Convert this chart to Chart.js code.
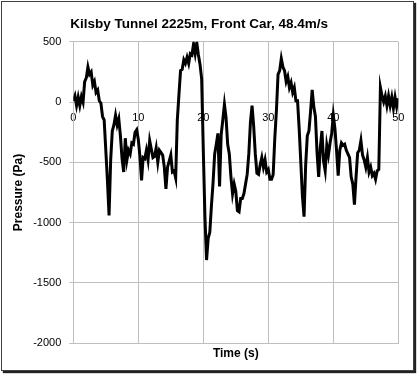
<!DOCTYPE html>
<html>
<head>
<meta charset="utf-8">
<script src="https://cdn.jsdelivr.net/npm/chart.js@4/dist/chart.umd.min.js"></script>
<style>
  html, body { margin: 0; padding: 0; background: #fff; }
  #wrap { position: relative; width: 417px; height: 375px; }
  #c { position: absolute; left: 0; top: 0; }
  #frame { position: absolute; left: 1px; top: 1px; width: 411px; height: 368px;
           border: 1px solid #404040; box-shadow: 2px 2px 1px #222; pointer-events: none; }
</style>
</head>
<body>
<div id="wrap">
  <canvas id="c" width="417" height="375"></canvas>
  <div id="frame"></div>
</div>
<script>
const chartTitle = 'Kilsby Tunnel 2225m, Front Car, 48.4m/s';
const xTitle = 'Time (s)';
const yTitle = 'Pressure (Pa)';

const timeS = [
  0,0.25,0.5,0.75,1,1.25,1.5,1.75,2,2.25,2.5,2.75,3,3.25,3.5,3.75,4,4.25,4.5,4.75,
  5,5.25,5.5,5.75,6,6.25,6.5,6.75,7,7.25,7.5,7.75,8,8.25,8.5,8.75,9,9.25,9.5,9.75,
  10,10.25,10.5,10.75,11,11.25,11.5,11.75,12,12.25,12.5,12.75,13,13.25,13.5,13.75,14,14.25,14.5,14.75,
  15,15.25,15.5,15.75,16,16.25,16.5,16.75,17,17.25,17.5,17.75,18,18.25,18.5,18.75,19,19.25,19.5,19.75,
  20,20.25,20.5,20.75,21,21.25,21.5,21.75,22,22.25,22.5,22.75,23,23.25,23.5,23.75,24,24.25,24.5,24.75,
  25,25.25,25.5,25.75,26,26.25,26.5,26.75,27,27.25,27.5,27.75,28,28.25,28.5,28.75,29,29.25,29.5,29.75,
  30,30.25,30.5,30.75,31,31.25,31.5,31.75,32,32.25,32.5,32.75,33,33.25,33.5,33.75,34,34.25,34.5,34.75,
  35,35.25,35.5,35.75,36,36.25,36.5,36.75,37,37.25,37.5,37.75,38,38.25,38.5,38.75,39,39.25,39.5,39.75,
  40,40.25,40.5,40.75,41,41.25,41.5,41.75,42,42.25,42.5,42.75,43,43.25,43.5,43.75,44,44.25,44.5,44.75,
  45,45.25,45.5,45.75,46,46.25,46.5,46.75,47,47.25,47.5,47.75,48,48.25,48.5,48.75,49,49.25,49.5,49.75,
  50
];

const pressurePa = [
  10,50,-30,40,-30,45,0,170,200,290,230,250,140,170,80,100,10,-10,-120,-150,
  -400,-650,-940,-480,-240,-190,-110,-190,-140,-280,-470,-580,-300,-480,-400,-430,-340,-350,-250,-230,
  -310,-450,-650,-460,-470,-400,-480,-320,-390,-460,-450,-380,-500,-400,-420,-440,-540,-720,-540,-490,
  -440,-580,-570,-630,-150,60,260,270,350,320,370,320,400,390,480,400,490,390,310,190,
  -400,-950,-1310,-1130,-1080,-860,-670,-430,-350,-260,-700,-270,-150,-20,-130,-350,-430,-620,-760,-680,
  -740,-900,-910,-800,-800,-760,-680,-600,-430,-170,-30,-200,-430,-590,-600,-520,-460,-540,-480,-580,
  -560,-640,-640,-600,-300,-70,230,260,360,290,260,170,210,120,160,80,120,10,10,-220,
  -500,-780,-950,-520,-280,-240,-80,100,-40,-120,-420,-620,-380,-240,-490,-570,-360,-440,-340,-260,
  -110,-220,-400,-610,-400,-340,-360,-350,-400,-430,-460,-620,-680,-850,-620,-420,-400,-320,-440,-480,
  -540,-460,-580,-540,-610,-590,-640,-570,-560,120,50,0,50,-30,50,-30,40,-50,40,-40,
  30
];

const xTicks = [0, 10, 20, 30, 40, 50];
const yTicks = [-2000, -1500, -1000, -500, 0, 500];

const points = timeS.map((t, i) => ({ x: t, y: pressurePa[i] }));

const gridColor = '#bfbfbf';
const tickFont = { family: 'Liberation Sans', size: 11 };

new Chart(document.getElementById('c'), {
  type: 'line',
  data: {
    datasets: [{
      data: points,
      borderColor: '#000',
      borderWidth: 3,
      pointRadius: 0,
      tension: 0,
      fill: false,
      xAxisID: 'x',
      yAxisID: 'y'
    }]
  },
  options: {
    responsive: false,
    animation: false,
    layout: { padding: { left: 0, right: 18.7, top: 0, bottom: 0 } },
    plugins: {
      legend: { display: false },
      tooltip: { enabled: false },
      title: {
        display: true,
        text: chartTitle,
        color: '#000',
        font: { family: 'Liberation Sans', size: 13.5, weight: 'bold' },
        padding: { top: 16.4, bottom: 9.1 }
      }
    },
    scales: {
      x: {
        type: 'linear',
        position: 'bottom',
        min: xTicks[0], max: xTicks[xTicks.length - 1],
        afterBuildTicks: s => { s.ticks = xTicks.map(v => ({ value: v })); },
        ticks: { display: false },
        grid: { color: gridColor, drawTicks: false, lineWidth: 1 },
        border: { color: gridColor },
        title: {
          display: true, text: xTitle, color: '#000',
          font: { family: 'Liberation Sans', size: 12, weight: 'bold' },
          padding: { top: 0, bottom: 13.8 }
        },
        afterFit: s => { s.height = 31.7; }
      },
      x2: {
        type: 'linear',
        axis: 'x',
        position: { y: 0 },
        min: xTicks[0], max: xTicks[xTicks.length - 1],
        afterBuildTicks: s => { s.ticks = xTicks.map(v => ({ value: v })); },
        ticks: { color: '#000', font: tickFont, padding: 9, maxRotation: 0,
                 callback: v => String(v) },
        grid: { display: false, drawTicks: false },
        border: { display: false }
      },
      y: {
        type: 'linear',
        min: yTicks[0], max: yTicks[yTicks.length - 1],
        afterBuildTicks: s => { s.ticks = yTicks.map(v => ({ value: v })); },
        ticks: { color: '#000', font: tickFont, padding: 8, callback: v => String(v) },
        grid: { color: gridColor, tickLength: 4, lineWidth: 1 },
        border: { color: gridColor },
        title: {
          display: true, text: yTitle, color: '#000',
          font: { family: 'Liberation Sans', size: 12, weight: 'bold' },
          padding: { top: 11.8, bottom: 0 }
        },
        afterFit: s => { s.width = 73.3; }
      }
    }
  }
});
</script>
</body>
</html>
